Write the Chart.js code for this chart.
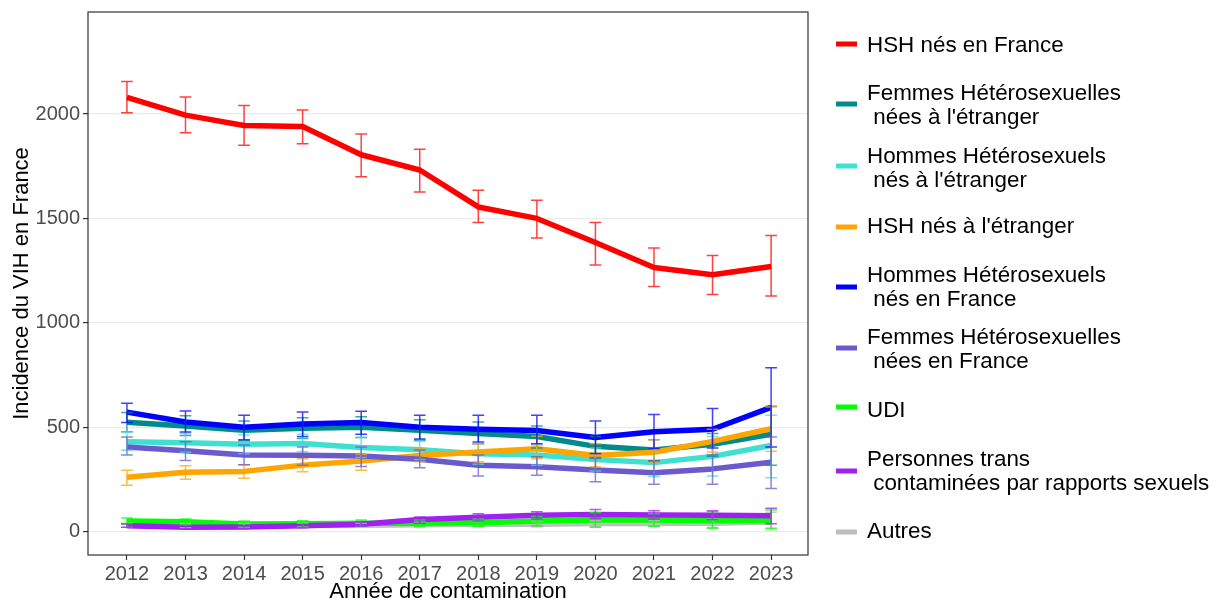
<!DOCTYPE html>
<html><head><meta charset="utf-8">
<script src="https://cdn.jsdelivr.net/npm/chart.js@4/dist/chart.umd.min.js"></script>
<style>html,body{margin:0;padding:0;background:#fff}canvas{display:block}</style>
</head><body>
<canvas id="c" width="1223" height="605"></canvas>
<script>
const years = [2012,2013,2014,2015,2016,2017,2018,2019,2020,2021,2022,2023];
const yTickValues = [0,500,1000,1500,2000];

const hshFrance   = [2080,1995,1945,1940,1805,1732,1555,1500,1385,1265,1230,1270];
const hshFranceLo = [2006,1910,1850,1858,1700,1627,1480,1406,1277,1174,1135,1128];
const hshFranceHi = [2156,2082,2041,2019,1905,1831,1635,1587,1480,1358,1322,1418];

const femmesEtr   = [523,505,485,495,500,485,470,455,408,390,418,466];
const femmesEtrLo = [478,460,435,445,450,435,420,400,355,340,360,318];
const femmesEtrHi = [570,555,530,545,550,536,525,505,455,440,470,600];

const hommesEtr   = [430,425,418,422,402,392,372,366,345,330,360,412];
const hommesEtrLo = [389,380,372,382,355,345,322,318,290,262,266,257];
const hommesEtrHi = [477,470,462,466,450,440,420,415,400,398,455,557];

const hshEtr   = [260,284,288,318,338,364,381,396,364,380,432,492];
const hshEtrLo = [222,250,255,286,294,334,334,349,310,330,381,384];
const hshEtrHi = [294,315,320,349,369,398,421,456,420,440,490,597];

const hommesFr   = [572,525,500,515,522,500,490,484,450,478,490,595];
const hommesFrLo = [522,477,440,455,466,443,429,421,374,398,400,405];
const hommesFrHi = [615,577,557,572,576,557,557,557,530,560,589,785];

const femmesFr   = [405,387,367,365,362,346,317,310,295,282,300,332];
const femmesFrLo = [366,340,320,317,312,306,266,270,238,226,226,206];
const femmesFrHi = [453,430,415,405,405,390,366,358,350,338,366,453];

const udi   = [50,47,36,37,40,40,42,50,55,55,52,52];
const udiLo = [35,30,22,22,25,25,25,28,20,25,15,15];
const udiHi = [65,60,50,52,55,55,60,72,90,85,95,103];

const trans   = [28,20,22,27,35,57,68,78,82,79,78,76];
const transLo = [20,12,14,18,25,40,50,60,62,60,58,37];
const transHi = [36,26,28,34,45,70,85,95,105,100,100,111];

const autres   = [30,28,28,30,30,32,35,35,38,38,40,45];
const autresLo = [20,18,18,20,20,20,22,22,24,24,20,7];
const autresHi = [40,38,38,40,40,44,48,48,52,52,60,92];

const legendLabels = [
  ["HSH nés en France"],
  ["Femmes Hétérosexuelles", " nées à l'étranger"],
  ["Hommes Hétérosexuels", " nés à l'étranger"],
  ["HSH nés à l'étranger"],
  ["Hommes Hétérosexuels", " nés en France"],
  ["Femmes Hétérosexuelles", " nées en France"],
  ["UDI"],
  ["Personnes trans", " contaminées par rapports sexuels"],
  ["Autres"]
];
const seriesColors = ["#ff0000","#008b8b","#40e0d0","#ffa500","#0000ff","#6a5acd","#00ff00","#a020f0","#bebebe"];
const seriesValues = [hshFrance,femmesEtr,hommesEtr,hshEtr,hommesFr,femmesFr,udi,trans,autres];
const seriesLo = [hshFranceLo,femmesEtrLo,hommesEtrLo,hshEtrLo,hommesFrLo,femmesFrLo,udiLo,transLo,autresLo];
const seriesHi = [hshFranceHi,femmesEtrHi,hommesEtrHi,hshEtrHi,hommesFrHi,femmesFrHi,udiHi,transHi,autresHi];

const FONT = "'Liberation Sans', Arial, sans-serif";

const datasets = seriesValues.map((vals, i) => ({
  label: legendLabels[i].join(''),
  data: years.map((y, j) => ({x: y, y: vals[j]})),
  borderColor: seriesColors[i],
  backgroundColor: seriesColors[i],
  borderWidth: 5.5,
  pointRadius: 0,
  tension: 0,
  fill: false,
  borderCapStyle: 'butt',
  borderJoinStyle: 'round',
  order: i === 8 ? 100 : 10 - i
}));

function hexA(hex, a) {
  const n = parseInt(hex.slice(1), 16);
  return `rgba(${(n>>16)&255},${(n>>8)&255},${n&255},${a})`;
}

const errorBars = {
  id: 'errorBars',
  afterDatasetsDraw(chart) {
    const {ctx, scales: {x, y}} = chart;
    ctx.save();
    ctx.beginPath();
    ctx.rect(chart.chartArea.left, chart.chartArea.top, chart.chartArea.right - chart.chartArea.left, chart.chartArea.bottom - chart.chartArea.top);
    ctx.clip();
    ctx.lineWidth = 1.5;
    const order = [8,0,1,2,3,4,5,6,7];
    order.forEach(i => {
      ctx.strokeStyle = hexA(seriesColors[i], 0.75);
      years.forEach((yr, j) => {
        const px = x.getPixelForValue(yr);
        const pl = x.getPixelForValue(yr - 0.1);
        const pr = x.getPixelForValue(yr + 0.1);
        const top = y.getPixelForValue(seriesHi[i][j]);
        const bot = y.getPixelForValue(seriesLo[i][j]);
        ctx.beginPath();
        ctx.moveTo(px, top); ctx.lineTo(px, bot);
        ctx.moveTo(pl, top); ctx.lineTo(pr, top);
        ctx.moveTo(pl, bot); ctx.lineTo(pr, bot);
        ctx.stroke();
      });
    });
    ctx.restore();
  },
  afterDraw(chart) {
    const {ctx, chartArea: a} = chart;
    ctx.save();
    ctx.strokeStyle = '#333333';
    ctx.lineWidth = 1.2;
    ctx.strokeRect(a.left, a.top, a.right - a.left, a.bottom - a.top);
    ctx.restore();
  }
};

const legendKeyY = [44,104,166,227,287,348,407,471,532];
const legendBaseY = [52,100,163,233,282,344,417,466,538];
const customLegend = {
  id: 'customLegend',
  afterDraw(chart) {
    const ctx = chart.ctx;
    ctx.save();
    ctx.font = `22.4px ${FONT}`;
    ctx.textBaseline = 'alphabetic';
    ctx.textAlign = 'left';
    legendLabels.forEach((lines, i) => {
      ctx.fillStyle = seriesColors[i];
      ctx.fillRect(836, legendKeyY[i] - 2.5, 21, 5);
      ctx.fillStyle = '#000000';
      lines.forEach((t, k) => ctx.fillText(t, 867, legendBaseY[i] + k * 24));
    });
    ctx.restore();
  }
};

new Chart(document.getElementById('c'), {
  type: 'line',
  data: {datasets},
  options: {
    responsive: false,
    animation: false,
    events: [],
    layout: {padding: {top: 12, right: 415, left: 0, bottom: 0}},
    plugins: {legend: {display: false}, tooltip: {enabled: false}},
    scales: {
      x: {
        type: 'linear',
        min: 2011.335,
        max: 2023.63,
        afterBuildTicks(s) { s.ticks = years.map(v => ({value: v})); },
        afterFit(s) { s.height = 50; s.paddingLeft = 0; s.paddingRight = 0; },
        border: {display: false},
        grid: {drawOnChartArea: false, drawTicks: true, tickColor: '#333333', tickLength: 5, tickWidth: 1.2},
        ticks: {color: '#4d4d4d', font: {family: FONT, size: 20}, padding: 2, maxRotation: 0, autoSkip: false, callback: v => String(v)},
        title: {display: true, text: 'Année de contamination', color: '#000000', font: {family: FONT, size: 22}, padding: {top: 3, bottom: 0}}
      },
      y: {
        type: 'linear',
        min: -112.6,
        max: 2489,
        afterBuildTicks(s) { s.ticks = yTickValues.map(v => ({value: v})); },
        afterFit(s) { s.width = 88; s.paddingTop = 0; s.paddingBottom = 0; },
        border: {display: false},
        grid: {color: '#ebebeb', lineWidth: 1.2, drawTicks: true, tickColor: '#333333', tickLength: 5, tickWidth: 1.2},
        ticks: {color: '#4d4d4d', font: {family: FONT, size: 20}, padding: 3, callback: v => String(v)},
        title: {display: true, text: 'Incidence du VIH en France', color: '#000000', font: {family: FONT, size: 22}, padding: {top: 9, bottom: 0}}
      }
    }
  },
  plugins: [errorBars, customLegend]
});
</script>
</body></html>
